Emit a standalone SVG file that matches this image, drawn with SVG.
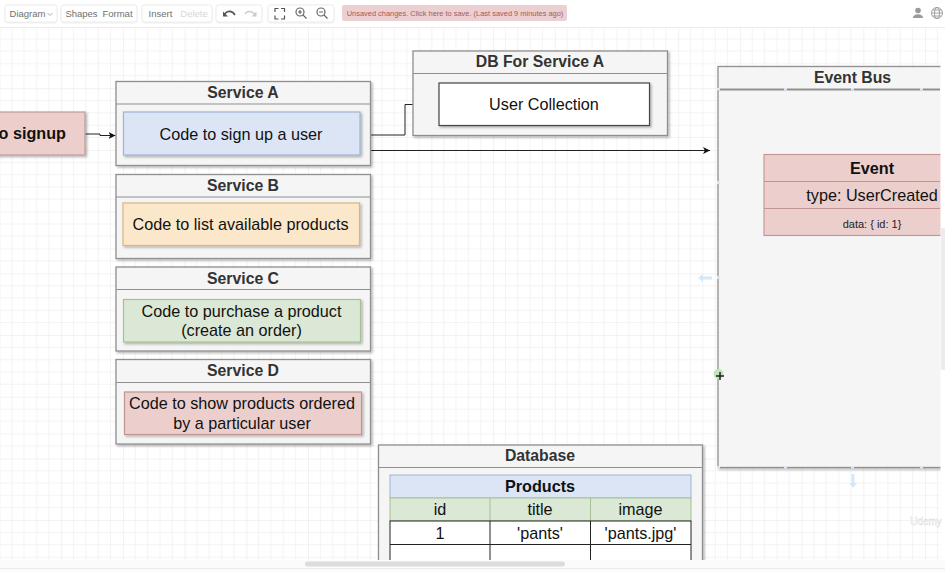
<svg xmlns="http://www.w3.org/2000/svg" width="945" height="572" viewBox="0 0 945 572">
<style>
text{font-family:"Liberation Sans",Arial,sans-serif;text-anchor:middle;fill:#111}
.t{font-size:15.8px;font-weight:700;fill:#333}
.b{font-size:16.2px;fill:#111}
.bb{font-size:16.2px;font-weight:700}
.c{fill:#f5f5f5;stroke:#8f8f8f;stroke-width:1.3;filter:url(#s)}
.d{fill:none;stroke:#8f8f8f;stroke-width:1.2}
.inner{stroke-width:1.2;filter:url(#s)}
.tb{fill:#fff;stroke:#ececec;stroke-width:1;filter:url(#tbs)}
.tt{font-size:9.5px;fill:#707070}
.conn{fill:none;stroke:#222;stroke-width:1}
.ic{fill:none;stroke:#777;stroke-width:1.2}
.hand{fill:#d5e8fa}
</style>
<defs>
<filter id="s" x="-5%" y="-5%" width="110%" height="115%"><feDropShadow dx="1.5" dy="1.5" stdDeviation="0.8" flood-color="#000" flood-opacity="0.3"/></filter>
<filter id="tbs" x="-5%" y="-10%" width="110%" height="125%"><feDropShadow dx="0" dy="0.5" stdDeviation="0.7" flood-color="#000" flood-opacity="0.12"/></filter>
<pattern id="grid" x="-0.5" y="26.5" width="61.7" height="61.7" patternUnits="userSpaceOnUse">
<path d="M12.34 0V61.7M24.68 0V61.7M37.02 0V61.7M49.36 0V61.7M0 12.34H61.7M0 24.68H61.7M0 37.02H61.7M0 49.36H61.7" fill="none" stroke="#f3f3f3" stroke-width="1"/>
<path d="M0 0V61.7M0 0H61.7" fill="none" stroke="#e6e6e6" stroke-width="1"/>
</pattern>
<marker id="arr" markerWidth="8" markerHeight="8" refX="7" refY="3.5" orient="auto" markerUnits="userSpaceOnUse"><path d="M0 0L7 3.5L0 7L1.8 3.5Z" fill="#111"/></marker>
</defs>
<rect width="945" height="572" fill="#fff"/>
<rect x="0" y="28" width="945" height="532" fill="url(#grid)"/>
<g id="toolbar">
<rect x="0" y="0" width="945" height="27" fill="#fff"/>
<path d="M0 27.5H945" stroke="#ececec"/>
<rect class="tb" x="5" y="5" width="52" height="17" rx="2.5"/>
<rect class="tb" x="61" y="5" width="76" height="17" rx="2.5"/>
<rect class="tb" x="142" y="5" width="70" height="17" rx="2.5"/>
<rect class="tb" x="216" y="5" width="46" height="17" rx="2.5"/>
<rect class="tb" x="268" y="5" width="66" height="17" rx="2.5"/>
<text class="tt" x="27.500" y="16.500">Diagram</text>
<path d="M47.500 13l2.500 2.500 2.500-2.500" fill="none" stroke="#999" stroke-width="0.8"/>
<text class="tt" x="81.500" y="16.500">Shapes</text>
<text class="tt" x="117.500" y="16.500">Format</text>
<text class="tt" x="160.500" y="16.500">Insert</text>
<text class="tt" x="194" y="16.500" style="fill:#d8d8d8">Delete</text>
<path d="M224 16c2-6 8-6 11-1" fill="none" stroke="#555" stroke-width="1.600"/><path d="M223 11.500v5h5z" fill="#555"/>
<path d="M255 15c-2-4-8-5-10-1" fill="none" stroke="#ccc" stroke-width="1.400"/><path d="M256.500 11.500v5h-5z" fill="#ccc"/>
<path d="M275 12V8.500h3.500M281 8.500h3.500V12M284.500 15.500V19H281M278.500 19H275V15.500" fill="none" stroke="#555" stroke-width="1.200"/>
<g fill="none" stroke="#666" stroke-width="1.200"><circle cx="300" cy="12" r="4"/><path d="M303 15l3.500 3.500M298 12h4M300 10v4"/><circle cx="321" cy="12" r="4"/><path d="M324 15l3.500 3.500M319 12h4"/></g>
<rect x="342" y="5" width="225" height="16" rx="2" fill="#eccfd0"/>
<text x="455" y="16" style="font-size:7.450px;fill:#a25c5c">Unsaved changes. Click here to save. (Last saved 9 minutes ago)</text>
<circle cx="918" cy="10.500" r="2.800" fill="#9a9a9a"/><path d="M913 18c0-5 10-5 10 0z" fill="#9a9a9a"/>
<g fill="none" stroke="#9a9a9a" stroke-width="0.900"><circle cx="937" cy="13" r="5.500"/><ellipse cx="937" cy="13" rx="2.500" ry="5.500"/><path d="M931.500 13h11M932.500 10h9M932.500 16h9"/></g>
</g>
<g id="connectors">
<path class="conn" d="M85 134H100V135.500H115.500" marker-end="url(#arr)"/>
<path class="conn" d="M371 135H405V104.500H413"/>
<path class="conn" d="M371 150.500H710" marker-end="url(#arr)"/>
</g>
<g id="user-signup">
<rect x="-10" y="112" width="95" height="43" fill="#eccfcc" stroke="#c49a97" stroke-width="1.200" filter="url(#s)"/>
<text class="bb" x="66" y="139" style="text-anchor:end">o signup</text>
</g>
<g id="service-a">
<rect class="c" x="116" y="81.500" width="254.500" height="84"/>
<path class="d" d="M116 104H370.500"/>
<text class="t" x="243" y="98">Service A</text>
<rect class="inner" x="123.500" y="112" width="236.500" height="43" fill="#dce5f6" stroke="#9fb3d1"/>
<text class="b" x="241" y="139.500">Code to sign up a user</text>
</g>
<g id="service-b">
<rect class="c" x="116" y="174.500" width="254.500" height="84"/>
<path class="d" d="M116 197H370.500"/>
<text class="t" x="243" y="191">Service B</text>
<rect class="inner" x="123" y="203" width="236.500" height="42.500" fill="#fbe7c9" stroke="#d9b77c"/>
<text class="b" x="240.500" y="230">Code to list available products</text>
</g>
<g id="service-c">
<rect class="c" x="116" y="267" width="254.500" height="84"/>
<path class="d" d="M116 289.500H370.500"/>
<text class="t" x="243" y="283.500">Service C</text>
<rect class="inner" x="123.500" y="299.500" width="237" height="42.500" fill="#dbe8d5" stroke="#a5c193"/>
<text class="b" x="241.500" y="316.500">Code to purchase a product</text>
<text class="b" x="241.500" y="336">(create an order)</text>
</g>
<g id="service-d">
<rect class="c" x="116" y="359.500" width="254.500" height="84.500"/>
<path class="d" d="M116 382.500H370.500"/>
<text class="t" x="243" y="376">Service D</text>
<rect class="inner" x="124.500" y="392" width="237" height="42.500" fill="#eccfcc" stroke="#c29491"/>
<text class="b" x="242" y="409">Code to show products ordered</text>
<text class="b" x="242" y="428.500">by a particular user</text>
</g>
<g id="db-service-a">
<rect class="c" x="413" y="51" width="254.500" height="84.500"/>
<path class="d" d="M413 73.500H667.500"/>
<text class="t" x="540" y="67">DB For Service A</text>
<rect class="inner" x="439" y="83" width="210.500" height="42.500" fill="#fff" stroke="#444"/>
<text class="b" x="544" y="109.500">User Collection</text>
</g>
<g id="event-bus">
<rect class="c" x="718" y="66.500" width="240" height="401"/>
<path d="M718 89.500H940" fill="none" stroke="#8f8f8f" stroke-width="2"/>
<text class="t" x="852.500" y="82.500">Event Bus</text>
</g>
<g id="event">
<rect x="764" y="154.500" width="190" height="81" fill="#eccfcc" stroke="#c29491" stroke-width="1.100"/>
<path d="M764 181.500H940M764 208.500H940" stroke="#c29491" stroke-width="1.100"/>
<text class="bb" x="872" y="174">Event</text>
<text class="b" x="872" y="201">type: UserCreated</text>
<text x="872" y="228" style="font-size:11px;fill:#222">data: { id: 1}</text>
</g>
<g id="selection-handles" fill="#dbe9f7">
<rect x="717" y="88" width="3" height="2.500"/><rect x="784" y="88" width="3" height="2.500"/><rect x="851" y="88" width="3" height="2.500"/><rect x="920" y="88" width="3" height="2.500"/>
<rect x="717" y="181" width="3" height="3"/><rect x="717" y="276" width="3" height="3"/>
<rect x="717" y="466" width="3" height="2.500"/><rect x="784" y="466" width="3" height="2.500"/><rect x="851" y="466" width="3" height="2.500"/><rect x="920" y="466" width="3" height="2.500"/>
<path class="hand" d="M698 278l5-4v2.500h9v3h-9v2.500z"/>
<path class="hand" d="M853 488l-4-5h2.500v-9h3v9h2.500z"/>
<circle cx="718.500" cy="374" r="5" fill="#bfe6b8"/>
<path d="M720 372v8M716 376h8" stroke="#222" stroke-width="1.500"/>
</g>
<g id="database">
<rect class="c" x="378.500" y="445" width="324" height="130"/>
<path class="d" d="M378.500 467.500H702.500"/>
<text class="t" x="540" y="461">Database</text>
<rect x="390" y="475" width="301" height="23" fill="#dce5f6" stroke="#9fb3d1" stroke-width="1"/>
<text class="bb" x="540" y="492">Products</text>
<rect x="390" y="498" width="301" height="23" fill="#dbe8d5" stroke="#a5c193" stroke-width="1"/>
<path d="M490 498V521M590.500 498V521" stroke="#a5c193"/>
<rect x="390" y="521" width="301" height="60" fill="#fff" stroke="#222" stroke-width="1"/>
<path d="M390 544.500H691M490 521V581M590.500 521V581" stroke="#222" fill="none"/>
<text class="b" x="440" y="515">id</text><text class="b" x="540" y="515">title</text><text class="b" x="640.500" y="515">image</text>
<text class="b" x="440" y="538.500">1</text><text class="b" x="540" y="538.500">'pants'</text><text class="b" x="640.500" y="538.500">'pants.jpg'</text>
</g>
<g id="scrollbar">
<rect x="940.500" y="28" width="4.500" height="532" fill="#fff"/>
<rect x="941" y="228" width="4" height="142" fill="#ececec"/>
<rect x="0" y="560" width="945" height="12" fill="#fbfbfb"/>
<path d="M0 568.500H945" stroke="#ececec"/>
<rect x="305" y="561.500" width="260" height="5" rx="2.500" fill="#dcdcdc"/>
</g>
<text x="926" y="525" style="font-size:10px;fill:#fff;stroke:#d8d8d8;stroke-width:0.4">Udemy</text>
</svg>
